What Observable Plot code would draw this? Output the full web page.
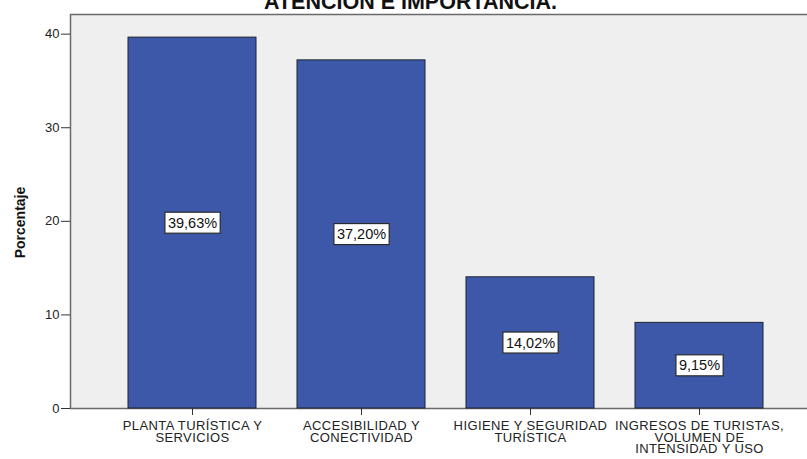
<!DOCTYPE html>
<html>
<head>
<meta charset="utf-8">
<script src="https://cdn.jsdelivr.net/npm/d3@7"></script>
<script src="https://cdn.jsdelivr.net/npm/@observablehq/plot@0.6"></script>
<style>
  html, body { margin: 0; padding: 0; background: #fff; overflow: hidden; }
  #chart { width: 807px; height: 459px; overflow: hidden; }
</style>
</head>
<body>
<div id="chart"></div>
<script>
const categories = [
  "PLANTA TURÍSTICA Y SERVICIOS",
  "ACCESIBILIDAD Y CONECTIVIDAD",
  "HIGIENE Y SEGURIDAD TURÍSTICA",
  "INGRESOS DE TURISTAS, VOLUMEN DE INTENSIDAD Y USO"
];
const tickLabels = [
  "PLANTA TURÍSTICA Y\nSERVICIOS",
  "ACCESIBILIDAD Y\nCONECTIVIDAD",
  "HIGIENE Y SEGURIDAD\nTURÍSTICA",
  "INGRESOS DE TURISTAS,\nVOLUMEN DE\nINTENSIDAD Y USO"
];
const percentages = [39.63, 37.20, 14.02, 9.15];
const yTicks = [0, 10, 20, 30, 40];
const titleText = "ATENCIÓN E IMPORTANCIA.";
const yLabel = "Porcentaje";

const data = categories.map((c, i) => ({cat: c, pct: percentages[i]}));
const labelOf = new Map(categories.map((c, i) => [c, tickLabels[i]]));
const fmt = v => v.toFixed(2).replace(".", ",") + "%";

const font = "'Liberation Sans', Arial, sans-serif";

const chart = Plot.plot({
  width: 807,
  height: 459,
  marginTop: 14,
  marginBottom: 51,
  marginLeft: 70,
  marginRight: -5,
  style: {fontFamily: font, background: "#fff", overflow: "hidden", color: "#222"},
  x: {domain: categories, range: [70, 821], paddingInner: 0.243, paddingOuter: 0.343, label: null},
  y: {domain: [0, 42.1], label: null},
  marks: [
    Plot.frame({fill: "#efefef", stroke: "#6a6a6a", strokeWidth: 1.5}),
    Plot.barY(data, {x: "cat", y: "pct", fill: "#3d58a8", stroke: "#1f2333", strokeWidth: 1}),
    Plot.axisY({ticks: yTicks, tickSize: 9, tickPadding: 2, fontSize: 13, label: null, stroke: "#333"}),
    Plot.axisX({tickSize: 7, tickPadding: 6, fontSize: 13, lineHeight: 0.9, label: null,
      tickFormat: d => labelOf.get(d), stroke: "#333", className: "xlab"}),
    Plot.text(data, {x: "cat", y: d => d.pct / 2, text: d => fmt(d.pct), fontSize: 14.5, fill: "#111", className: "vlabel"}),
    Plot.text([yLabel], {frameAnchor: "left", textAnchor: "middle", rotate: -90, dx: -50, dy: 11, fontSize: 14, fontWeight: "bold", fill: "#111"}),
    Plot.text([titleText], {frameAnchor: "top", dx: -31, dy: -6, lineAnchor: "bottom", fontSize: 21.5, fontWeight: "bold", fill: "#111"})
  ]
});
document.getElementById("chart").appendChild(chart);

// slightly wider category labels, as in the reference
d3.select(chart).selectAll("g.xlab text").style("letter-spacing", "0.4px");

// white boxes behind the value labels
d3.select(chart).selectAll("g.vlabel text").each(function() {
  const b = this.getBBox();
  const t = this.getAttribute("transform");
  const r = document.createElementNS("http://www.w3.org/2000/svg", "rect");
  r.setAttribute("x", b.x - 3);
  r.setAttribute("y", b.y - 2.5);
  r.setAttribute("width", b.width + 6);
  r.setAttribute("height", b.height + 5);
  r.setAttribute("fill", "#fff");
  r.setAttribute("stroke", "#2a2a2a");
  r.setAttribute("stroke-width", "1.2");
  if (t) r.setAttribute("transform", t);
  this.parentNode.insertBefore(r, this);
});
</script>
</body>
</html>
